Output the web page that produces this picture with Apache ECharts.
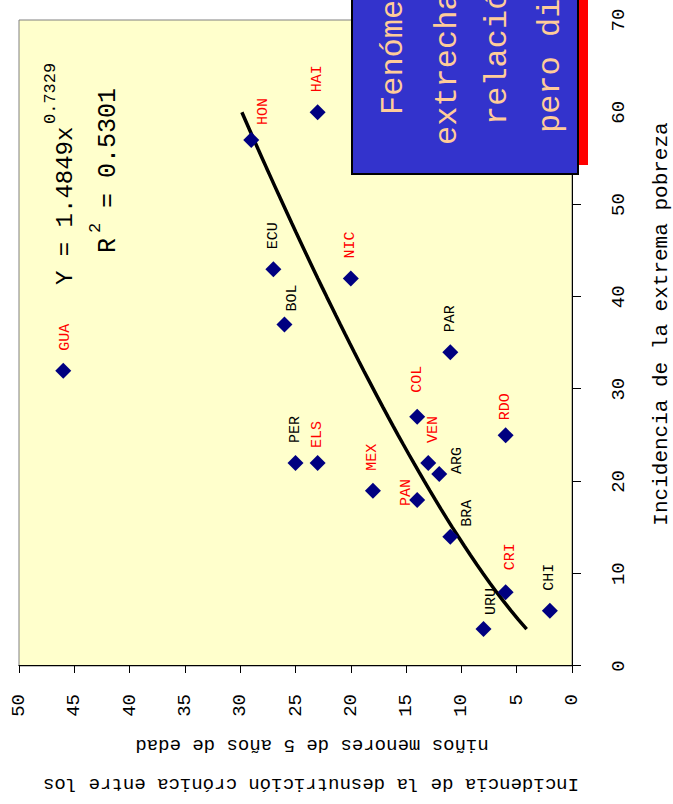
<!DOCTYPE html>
<html><head><meta charset="utf-8">
<script src="https://cdn.jsdelivr.net/npm/echarts@6/dist/echarts.min.js"></script>
<style>
html,body{margin:0;padding:0;background:#fff;overflow:hidden;width:673px;height:804px;}
#chart{position:absolute;left:0;top:0;width:804px;height:673px;transform-origin:0 0;transform:translate(0,804px) rotate(-90deg);}
</style></head><body><div id="chart"></div>
<script>
// ---- data ----
const countries = ['GUA','HAI','HON','ECU','NIC','BOL','PAR','COL','RDO','PER','ELS','VEN','ARG','MEX','PAN','BRA','CRI','URU','CHI'];
const extremePoverty = [32, 60, 57, 43, 42, 37, 34, 27, 25, 22, 22, 22, 20.8, 19, 18, 14, 8, 4, 6];
const childStunting  = [46, 23, 29, 27, 20, 26, 11, 14, 6, 25, 23, 13, 12, 18, 14, 11, 6, 8, 2];
const redLabels = ['GUA','HAI','HON','NIC','COL','RDO','ELS','VEN','MEX','PAN','CRI'];
const trendCoef = 1.4849;
const trendExp = 0.7329;
const trendR2 = '0.5301';
const trendFrom = 4, trendTo = 60;
const xTitle = 'Incidencia de la extrema pobreza';
const yTitle1 = 'Incidencia de la desnutrición crónica entre los';
const yTitle2 = 'niños menores de 5 años de edad';
const noteLines = ['Fenómenos con una', 'extrecha relación', 'relación directa', 'pero distintos'];

// ---- styling helpers ----
const MONO = '"Liberation Mono","Courier New",monospace';
const labelShift = { HON:[-5,12], BRA:[-10,17], ARG:[-20,18], PAN:[-26,-11], URU:[-6,8], BOL:[-7,8], VEN:[0,5], CRI:[2,5], COL:[4,0], RDO:[-5,0], ELS:[-5,0], GUA:[0,2] };

const scatterData = countries.map((c, i) => ({
  value: [extremePoverty[i], childStunting[i]],
  name: c,
  label: { color: redLabels.includes(c) ? '#FF0000' : '#000000', offset: labelShift[c] || [0, 0] }
}));

const trendData = [];
for (let x = trendFrom; x <= trendTo; x += 1) trendData.push([x, trendCoef * Math.pow(x, trendExp)]);

const chart = echarts.init(document.getElementById('chart'), null, { renderer: 'svg', width: 804, height: 673 });
chart.setOption({
  animation: false,
  backgroundColor: '#ffffff',
  grid: { left: 138, right: 20, top: 19, bottom: 101, show: true, backgroundColor: '#FFFFCC', borderColor: '#808080', borderWidth: 1, containLabel: false, outerBoundsMode: 'none' },
  xAxis: {
    type: 'value', min: 0, max: 70, interval: 10,
    axisLine: { show: true, onZero: false, lineStyle: { color: '#000', width: 1 } },
    axisTick: { show: true, length: 9, lineStyle: { color: '#000' } },
    axisLabel: { fontFamily: MONO, fontSize: 19, color: '#000', margin: 37 },
    splitLine: { show: false }
  },
  yAxis: {
    type: 'value', min: 0, max: 50, interval: 5,
    axisLine: { show: true, onZero: false, lineStyle: { color: '#000', width: 1 } },
    axisTick: { show: true, length: 7, lineStyle: { color: '#000' } },
    axisLabel: { fontFamily: MONO, fontSize: 19, color: '#000', margin: 28 },
    splitLine: { show: false }
  },
  series: [
    {
      type: 'line', data: trendData, showSymbol: false, symbol: 'none', smooth: false,
      lineStyle: { color: '#000', width: 3.5 }, z: 2, silent: true
    },
    {
      type: 'scatter', data: scatterData, symbol: 'diamond', symbolSize: 16,
      itemStyle: { color: '#000080', opacity: 1 }, z: 3,
      label: { show: true, position: 'right', distance: 12, fontFamily: MONO, fontSize: 15, formatter: p => p.name }
    }
  ],
  graphic: [
    // equation
    { type: 'text', x: 519, y: 65, z: 10, style: { text: 'Y = 1.4849x', fontFamily: MONO, fontSize: 24, fill: '#000', align: 'left', verticalAlign: 'middle' } },
    { type: 'text', x: 680, y: 50, z: 10, style: { text: String(trendExp), fontFamily: MONO, fontSize: 17, fill: '#000', align: 'left', verticalAlign: 'middle' } },
    { type: 'text', x: 551, y: 108, z: 10, style: { text: 'R', fontFamily: MONO, fontSize: 25, fill: '#000', align: 'left', verticalAlign: 'middle' } },
    { type: 'text', x: 571, y: 95, z: 10, style: { text: '2', fontFamily: MONO, fontSize: 17, fill: '#000', align: 'left', verticalAlign: 'middle' } },
    { type: 'text', x: 596, y: 108, z: 10, style: { text: '= ' + trendR2, fontFamily: MONO, fontSize: 25, fill: '#000', align: 'left', verticalAlign: 'middle' } },
    // axis titles
    { type: 'text', x: 480, y: 661, z: 10, style: { text: xTitle, fontFamily: MONO, fontSize: 21, fill: '#000', align: 'center', verticalAlign: 'middle' } },
    { type: 'text', x: 20, y: 311, rotation: Math.PI / 2, z: 10, style: { text: yTitle1, fontFamily: MONO, fontSize: 19, fill: '#000', align: 'center', verticalAlign: 'middle' } },
    { type: 'text', x: 59, y: 312, rotation: Math.PI / 2, z: 10, style: { text: yTitle2, fontFamily: MONO, fontSize: 19, fill: '#000', align: 'center', verticalAlign: 'middle' } },
    // note box with red shadow
    { type: 'rect', z: 20, shape: { x: 639, y: 362, width: 200, height: 226 }, style: { fill: '#FF0000' } },
    { type: 'rect', z: 21, shape: { x: 630, y: 352, width: 200, height: 226 }, style: { fill: '#3333CC', stroke: '#000', lineWidth: 2 } },
    { type: 'text', x: 689, y: 393, z: 22, style: { text: noteLines[0], fontFamily: MONO, fontSize: 32, fill: '#FFCC99', align: 'left', verticalAlign: 'middle' } },
    { type: 'text', x: 659, y: 447, z: 22, style: { text: noteLines[1], fontFamily: MONO, fontSize: 32, fill: '#FFCC99', align: 'left', verticalAlign: 'middle' } },
    { type: 'text', x: 679, y: 497, z: 22, style: { text: noteLines[2], fontFamily: MONO, fontSize: 32, fill: '#FFCC99', align: 'left', verticalAlign: 'middle' } },
    { type: 'text', x: 671, y: 550, z: 22, style: { text: noteLines[3], fontFamily: MONO, fontSize: 32, fill: '#FFCC99', align: 'left', verticalAlign: 'middle' } }
  ]
});
</script></body></html>
